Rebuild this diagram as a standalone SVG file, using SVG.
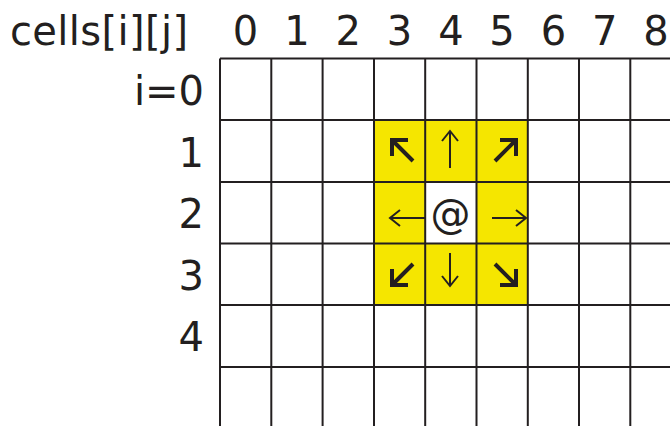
<svg xmlns="http://www.w3.org/2000/svg" width="670" height="426" viewBox="0 0 670 426">
<style>
.t{font-family:"DejaVu Sans","Verdana",sans-serif;font-size:40px;fill:#231f20}
.g{stroke:#231f20;stroke-width:2;fill:none}
.y{fill:#f5e600}
.a{stroke:#231f20;stroke-width:2;fill:none;stroke-linecap:butt;stroke-linejoin:miter}
.b{stroke:#231f20;stroke-width:4;fill:none;stroke-linecap:butt;stroke-linejoin:miter}
</style>
<rect width="670" height="426" fill="#fff"/>
<g id="highlight">
<rect class="y" x="374" y="120" width="153" height="185"/>
<rect x="425" y="182" width="51" height="62" fill="#fff"/>
</g>
<g id="grid" class="g">
<path d="M220,58.5V426M271.3,58.5V426M322.6,58.5V426M374,58.5V426M425.2,58.5V426M476.5,58.5V426M527.8,58.5V426M579,58.5V426M630.3,58.5V426"/>
<path d="M220,58.5H670M220,120H670M220,182H670M220,243.5H670M220,305H670M220,367H670"/>
</g>
<g id="header">
<text class="t" x="10" y="45" textLength="178" lengthAdjust="spacing">cells[i][j]</text>
<g text-anchor="middle">
<text class="t" x="245.6" y="45">0</text>
<text class="t" x="297" y="45">1</text>
<text class="t" x="348.3" y="45">2</text>
<text class="t" x="399.6" y="45">3</text>
<text class="t" x="450.9" y="45">4</text>
<text class="t" x="502.1" y="45">5</text>
<text class="t" x="553.4" y="45">6</text>
<text class="t" x="604.7" y="45">7</text>
<text class="t" x="656" y="45">8</text>
</g>
</g>
<g id="rows" text-anchor="end">
<text class="t" x="204" y="105">i=0</text>
<text class="t" x="204" y="167">1</text>
<text class="t" x="204" y="228">2</text>
<text class="t" x="204" y="290">3</text>
<text class="t" x="204" y="351">4</text>
</g>
<g id="center">
<text class="t" x="450.5" y="228" text-anchor="middle" font-size="36">@</text>
</g>
<g id="arrows">
<path class="a" d="M450,168V131M442,141L450,131L458,141"/>
<path class="a" d="M450,253V286M442,276L450,286L458,276"/>
<path class="a" d="M425,218H390M400,210L390,218L400,226"/>
<path class="a" d="M492,218H526M516,210L526,218L516,226"/>
<path class="b" d="M413,161L392,140M408,140H392V156"/>
<path class="b" d="M495,161L516,140M500,140H516V156"/>
<path class="b" d="M413,264L392,285M392,269V285H408"/>
<path class="b" d="M495,264L516,285M516,269V285H500"/>
</g>
</svg>
